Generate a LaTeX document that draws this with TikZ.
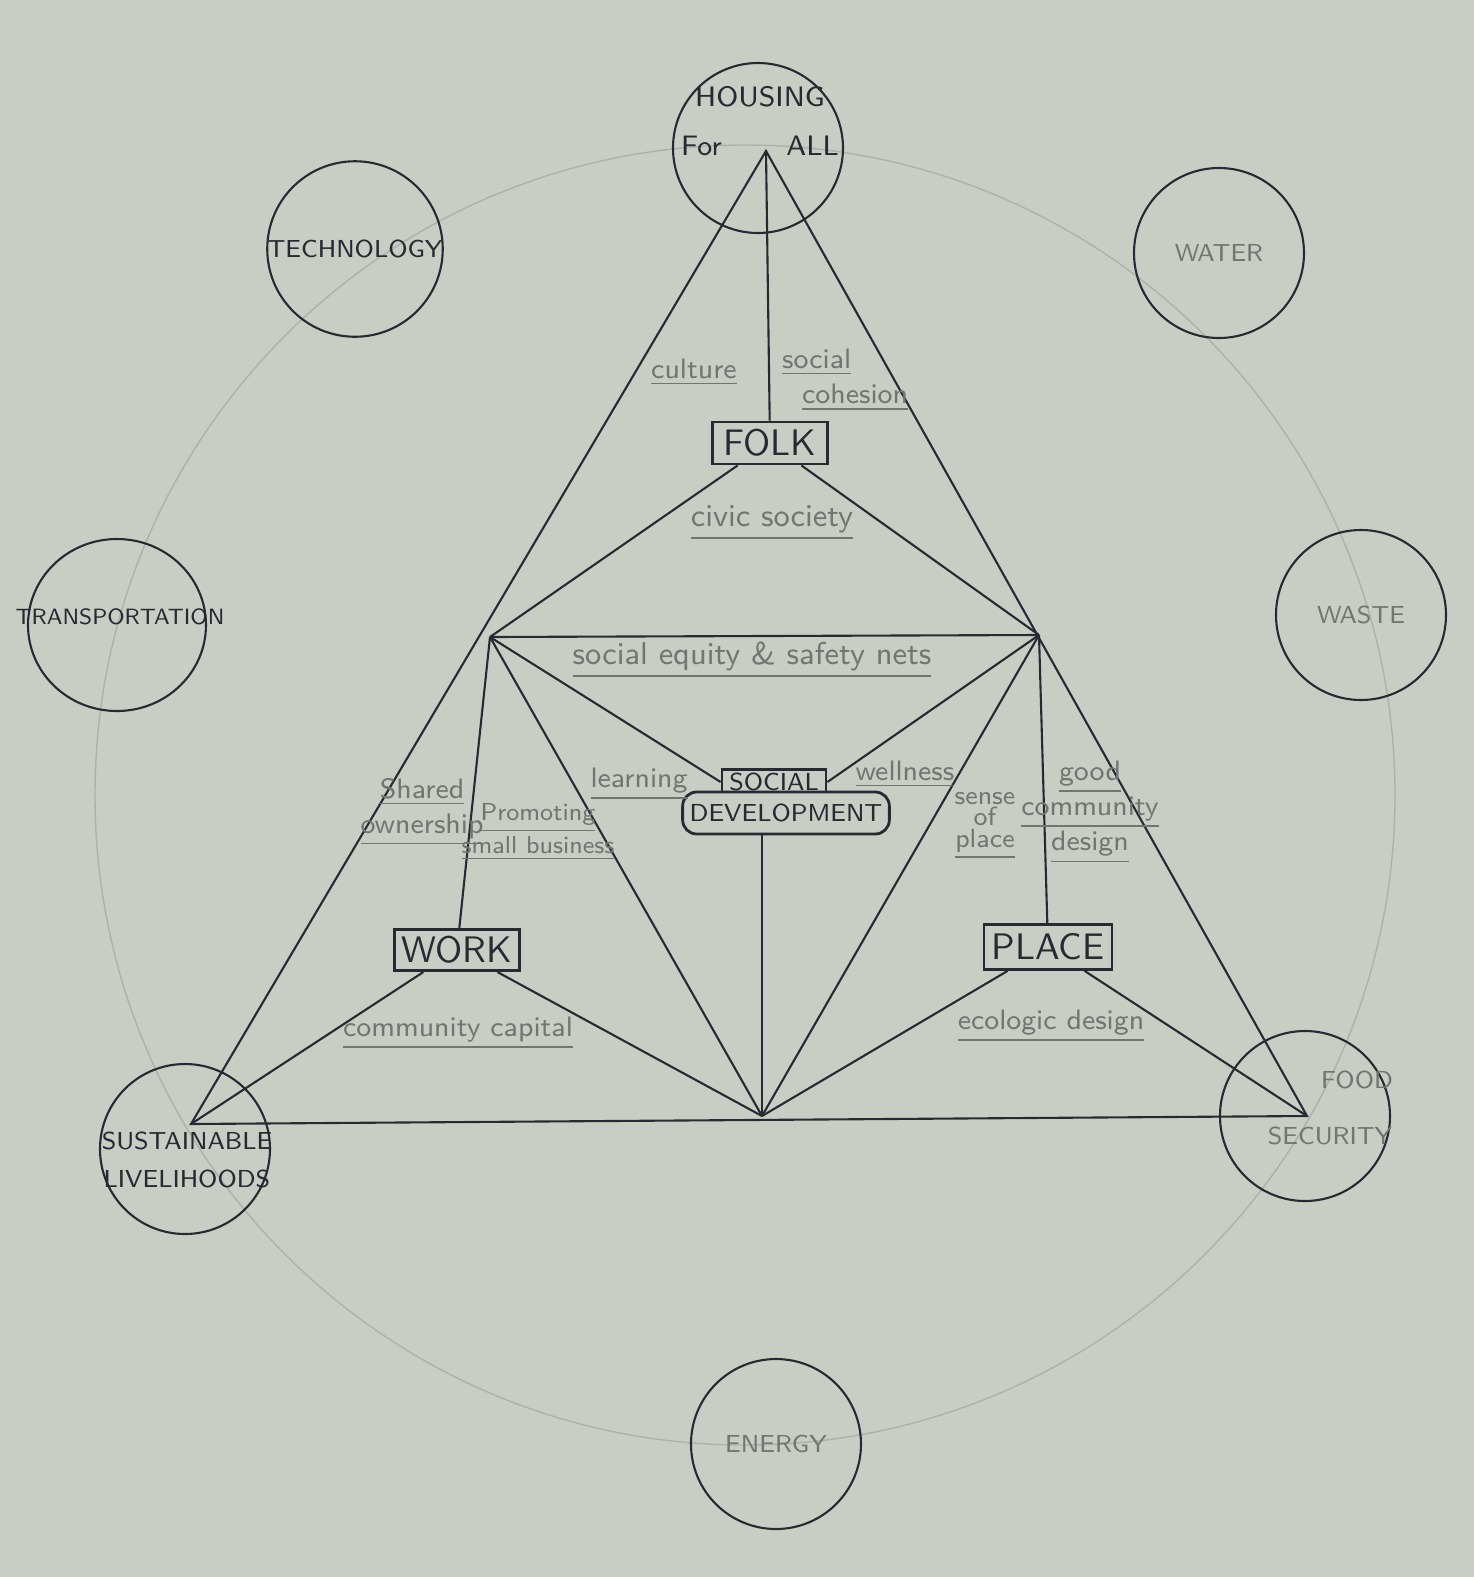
\documentclass[tikz,border=0pt]{standalone}
\usepackage{xcolor}
\usepackage{tikz}
\usetikzlibrary{shapes}
\definecolor{paper}{RGB}{201,206,197}
\definecolor{pencil}{RGB}{38,42,50}
\definecolor{faint}{RGB}{172,177,170}
\definecolor{soft}{RGB}{112,118,113}
\newcommand{\uln}[1]{\underline{#1}}
\tikzstyle{sphere}=[circle,draw=pencil,semithick,minimum size=1.7cm,inner sep=0pt,align=center,text=pencil,font=\sffamily\fontsize{7}{9}\selectfont]
\tikzstyle{captxt}=[inner sep=0pt,align=center,text=pencil,font=\sffamily\fontsize{7}{9}\selectfont]
\tikzstyle{hub}=[rectangle,draw=pencil,thick,fill=paper,inner sep=2pt,text=pencil,font=\sffamily\fontsize{10.5}{12}\selectfont]
\tikzstyle{note}=[inner sep=1pt,align=center,text=soft,font=\sffamily\fontsize{8}{10}\selectfont]
\tikzstyle{edge}=[draw=pencil,semithick]

\begin{document}
\begin{tikzpicture}[x=0.1mm,y=-0.1mm]
        \fill [paper] (0,0) rectangle (1474,1577);
        \useasboundingbox (0,0) rectangle (1474,1577);
        \draw [faint,thin] (745,795) circle [radius=650];

        \node at ( 758, 148) [sphere] (housing) {};
        \node at ( 760, 121) [captxt,font=\sffamily\fontsize{8}{9}\selectfont] (housingtxt) {HOUSING\\[5pt]For\hspace{2.3em}ALL};
        \node at ( 355, 249) [sphere] (tech) {TECHNOLOGY};
        \node at (1219, 253) [sphere,text=soft] (water) {WATER};
        \node at ( 117, 625) [sphere,minimum width=1.78cm,minimum height=1.72cm,ellipse] (transport) {};
        \node at ( 120, 617) [captxt,font=\sffamily\fontsize{6.3}{8}\selectfont] (transporttxt) {TRANSPORTATION};
        \node at (1361, 615) [sphere,text=soft] (waste) {WASTE};
        \node at ( 185, 1149) [sphere] (livelihoods) {};
        \node at ( 187, 1160) [captxt] (livelihoodstxt) {SUSTAINABLE\\[2pt]LIVELIHOODS};
        \node at (1305, 1116) [sphere] (food) {};
        \node at (1330, 1108) [captxt,text=soft] (foodtxt) {\hspace{2.2em}FOOD\\[7pt]SECURITY};
        \node at ( 776, 1444) [sphere,text=soft] (energy) {ENERGY};

        \coordinate (apex) at ( 766, 151);
        \coordinate (sl) at ( 191, 1124);
        \coordinate (fs) at (1307, 1116);
        \coordinate (lmid) at ( 490, 637);
        \coordinate (rmid) at (1039, 635);
        \coordinate (bmid) at ( 762, 1116);

        \node at ( 770, 443) [hub,minimum width=1.15cm,minimum height=0.42cm] (folk) {FOLK};
        \node at ( 774, 782) [hub,minimum width=1.04cm,minimum height=0.22cm,inner sep=1pt,font=\sffamily\fontsize{7}{8}\selectfont] (social) {SOCIAL};
        \node at ( 786, 813) [hub,rounded corners=4pt,minimum width=1.75cm,minimum height=0.42cm,font=\sffamily\fontsize{7}{8}\selectfont] (devel) {DEVELOPMENT};
        \node at ( 457, 950) [hub,minimum width=1.25cm,minimum height=0.38cm] (work) {WORK};
        \node at (1048, 947) [hub,minimum width=1.28cm,minimum height=0.45cm] (place) {PLACE};

        \draw [edge] (apex) -- (sl) -- (fs) -- cycle;
        \draw [edge] (apex) to (folk);
        \draw [edge] (folk) to (lmid);
        \draw [edge] (folk) to (rmid);
        \draw [edge] (lmid) to (rmid);
        \draw [edge] (lmid) to (social.west);
        \draw [edge] (rmid) to (social.east);
        \draw [edge] (bmid |- devel.south) to (bmid);
        \draw [edge] (lmid) to (work);
        \draw [edge] (lmid) to (bmid);
        \draw [edge] (rmid) to (bmid);
        \draw [edge] (rmid) to (place);
        \draw [edge] (work) to (sl);
        \draw [edge] (work) to (bmid);
        \draw [edge] (place) to (bmid);
        \draw [edge] (place) to (fs);

        \node at ( 694, 372) [note] (culture) {\uln{culture}};
        \node at ( 778, 380) [note,anchor=west,align=left] (cohesion) {\uln{social}\\\hspace{0.2cm}\uln{cohesion}};
        \node at ( 772, 523) [note,font=\sffamily\fontsize{9}{10}\selectfont] (civic) {\uln{civic society}};
        \node at ( 752, 660) [note,font=\sffamily\fontsize{9}{10}\selectfont] (equity) {\uln{social equity \& safety nets}};
        \node at ( 639, 784) [note] (learning) {\uln{learning}};
        \node at ( 905, 774) [note] (wellness) {\uln{wellness}};
        \node at ( 422, 812) [note] (shared) {\uln{Shared}\\\uln{ownership}};
        \node at ( 538, 832) [note,font=\sffamily\fontsize{7}{7}\selectfont] (promoting) {\uln{Promoting}\\\uln{small business}};
        \node at ( 985, 826) [note,font=\sffamily\fontsize{7.5}{6}\selectfont] (sense) {sense\\of\\\uln{place}};
        \node at (1090, 812) [note] (design) {\uln{good}\\\uln{community}\\\uln{design}};
        \node at ( 458, 1033) [note] (capital) {\uln{community capital}};
        \node at (1051, 1026) [note] (ecologic) {\uln{ecologic design}};
      \end{tikzpicture}
\end{document}
